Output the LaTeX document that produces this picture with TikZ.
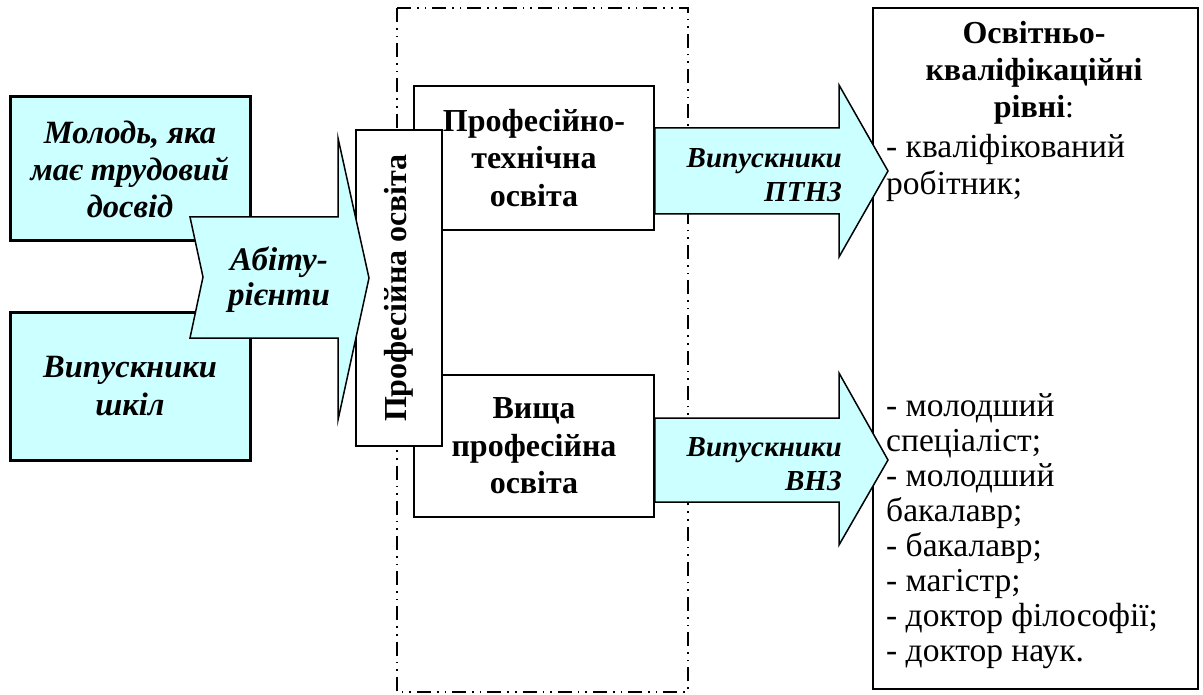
\documentclass[tikz,border=0pt]{standalone}
\usepackage{fontspec}
\setmainfont{Liberation Serif}
\definecolor{lcyan}{HTML}{CCFFFF}
\tikzset{
  thickbox/.style={draw, line width=3pt, fill=lcyan, inner sep=0pt},
  plainbox/.style={draw, line width=1.8pt, fill=white, inner sep=0pt},
  blockarrow/.style={draw, line width=1.5pt, fill=lcyan, line join=miter},
  frame/.style={draw, line width=1.4pt, dash pattern=on 14pt off 6pt on 1.6pt off 6pt on 1.6pt off 6pt},
  txt/.style={inner sep=0pt},
}
\begin{document}
\begin{tikzpicture}[x=1pt,y=-1pt]
\useasboundingbox (0,0) rectangle (1203,695);
% dash-dot frame
\draw[frame] (397,8) rectangle (688,692);
% left boxes
\node[thickbox, minimum width=240pt, minimum height=144pt] (b1) at (130,169) {};
\node[txt, align=center, font=\fontsize{32.5}{37}\selectfont\bfseries\itshape] (t1) at (b1.center) {Молодь, яка\\має трудовий\\досвід};
\node[thickbox, minimum width=240pt, minimum height=147pt] (b2) at (130,386.5) {};
\node[txt, align=center, font=\fontsize{32.5}{38}\selectfont\bfseries\itshape] (t2) at (b2.center) {Випускники\\шкіл};
% right boxes of the frame
\node[plainbox, minimum width=240pt, minimum height=144pt] (pto) at (534,158) {};
\node[txt, align=center, font=\fontsize{32}{37.5}\selectfont\bfseries] at (pto.center) {Професійно-\\технічна\\освіта};
\node[plainbox, minimum width=240pt, minimum height=142pt] (vpo) at (534,446) {};
\node[txt, align=center, font=\fontsize{32}{37.5}\selectfont\bfseries] at (vpo.center) {Вища\\професійна\\освіта};
% vertical box
\node[plainbox, minimum width=86pt, minimum height=316pt] (po) at (399,288) {};
\node[txt, rotate=90, font=\fontsize{32}{36}\selectfont\bfseries] at (po.center) {Професійна освіта};
% abiturient arrow
\coordinate (abtip) at (369,278);
\draw[blockarrow] (190,217) -- (203,277) -- (190,338) -- (338,338) -- (338,420) -- (abtip) -- (338,138) -- (338,217) -- cycle;
\node[txt, align=center, font=\fontsize{33}{35}\selectfont\bfseries\itshape] (ab) at (279,280) {Абіту-\\рієнти};
% right box
\node[draw, line width=1.8pt, inner sep=0pt, minimum width=325pt, minimum height=681pt] (okr) at (1035.5,348.5) {};
% output arrows
\draw[blockarrow] (pto.east |- 0,128) -- (839,128) -- (839,85) -- (888,171) -- (839,257) -- (839,214) -- (pto.east |- 0,214) -- cycle;
\node[txt, anchor=east, align=right, font=\fontsize{29}{34}\selectfont\bfseries\itshape] (ptnz) at (842,175) {Випускники\\ПТНЗ};
\draw[blockarrow] (vpo.east |- 0,418) -- (839,418) -- (839,373) -- (888,460) -- (839,545) -- (839,502) -- (vpo.east |- 0,502) -- cycle;
\node[txt, anchor=east, align=right, font=\fontsize{29}{34}\selectfont\bfseries\itshape] (vnz) at (842,464) {Випускники\\ВНЗ};
% text in right box
\node[txt, align=center, font=\fontsize{32}{37}\selectfont] (head) at (1034,73) {\textbf{Освітньо-}\\\textbf{кваліфікаційні}\\\textbf{рівні}:};
\node[txt, anchor=west, align=left, font=\fontsize{33.5}{37}\selectfont] (l1) at (886,168) {- кваліфікований\\робітник;};
\node[txt, anchor=west, align=left, font=\fontsize{33.5}{35}\selectfont] (l2) at (886,531) {- молодший\\спеціаліст;\\- молодший\\бакалавр;\\- бакалавр;\\- магістр;\\- доктор філософії;\\- доктор наук.};
\end{tikzpicture}
\end{document}
